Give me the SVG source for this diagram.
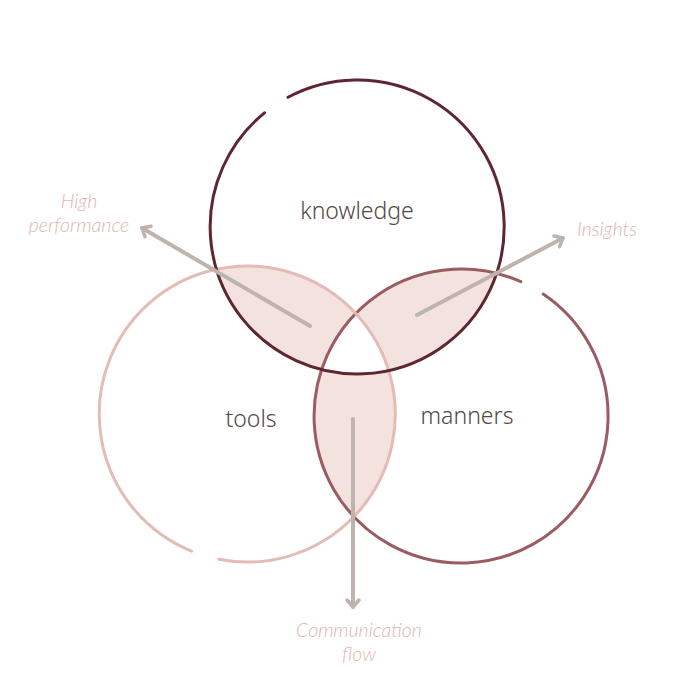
<svg xmlns="http://www.w3.org/2000/svg" width="700" height="700" viewBox="0 0 700 700">
  <style>
    .ring { fill: none; stroke-width: 3; stroke-linecap: round; }
    .lens { fill: #f4e2df; }
    .node-label { font-family: "Noto Sans", "Open Sans", sans-serif; font-weight: 300; font-size: 23px; fill: #4f4847; text-anchor: middle; }
    .flow-label { font-family: Lato, "Open Sans", sans-serif; font-style: italic; font-weight: 300; font-size: 19.5px; fill: #e0b6ae; text-anchor: middle; }
    .arrow { fill: none; stroke: #bfb3ae; stroke-width: 4; stroke-linecap: round; }
  </style>
  <defs>
    <clipPath id="cK"><circle cx="357" cy="227" r="147"/></clipPath>
    <clipPath id="cT"><circle cx="247" cy="414" r="148"/></clipPath>
    <clipPath id="cM"><circle cx="461" cy="416" r="147"/></clipPath>
    <marker id="head" viewBox="-10 -10 20 20" markerWidth="20" markerHeight="20" markerUnits="userSpaceOnUse" refX="0" refY="0" orient="auto">
      <path d="M-7,-6 L0,0 L-7,6" fill="none" stroke="#bfb3ae" stroke-width="3.5" stroke-linecap="round" stroke-linejoin="round"/>
    </marker>
  </defs>
  <rect width="700" height="700" fill="#ffffff"/>

  <g id="overlaps">
    <g clip-path="url(#cK)"><circle class="lens" cx="247" cy="414" r="148" clip-path="url(#cT)"/></g>
    <g clip-path="url(#cK)"><circle class="lens" cx="461" cy="416" r="147" clip-path="url(#cM)"/></g>
    <g clip-path="url(#cT)"><circle class="lens" cx="461" cy="416" r="147" clip-path="url(#cM)"/></g>
    <g clip-path="url(#cK)"><g clip-path="url(#cT)"><circle cx="461" cy="416" r="147" fill="#ffffff" clip-path="url(#cM)"/></g></g>
  </g>

  <g id="manners">
    <path class="ring" stroke="#9a5c62" d="M543.2,294.1 A147,147 0 1 1 520.8,281.7"/>
    <text class="node-label" x="467" y="424">manners</text>
  </g>
  <g id="tools">
    <path class="ring" stroke="#e2bcb5" d="M191.6,551.2 A148,148 0 1 1 218.8,559.3"/>
    <text class="node-label" x="251" y="427">tools</text>
  </g>
  <g id="knowledge">
    <path class="ring" stroke="#5e2630" d="M288,97.2 A147,147 0 1 1 264.5,112.8"/>
    <text class="node-label" x="357" y="219">knowledge</text>
  </g>

  <g id="connectors">
    <line class="arrow" x1="310" y1="326" x2="142" y2="228" marker-end="url(#head)"/>
    <line class="arrow" x1="417" y1="315" x2="563" y2="238" marker-end="url(#head)"/>
    <line class="arrow" x1="353" y1="419" x2="353" y2="607" marker-end="url(#head)"/>
  </g>

  <g id="labels">
    <text class="flow-label" x="79" y="208">High</text>
    <text class="flow-label" x="79" y="232">performance</text>
    <text class="flow-label" x="607" y="236">Insights</text>
    <text class="flow-label" x="359" y="637">Communication</text>
    <text class="flow-label" x="359" y="661">flow</text>
  </g>
</svg>
